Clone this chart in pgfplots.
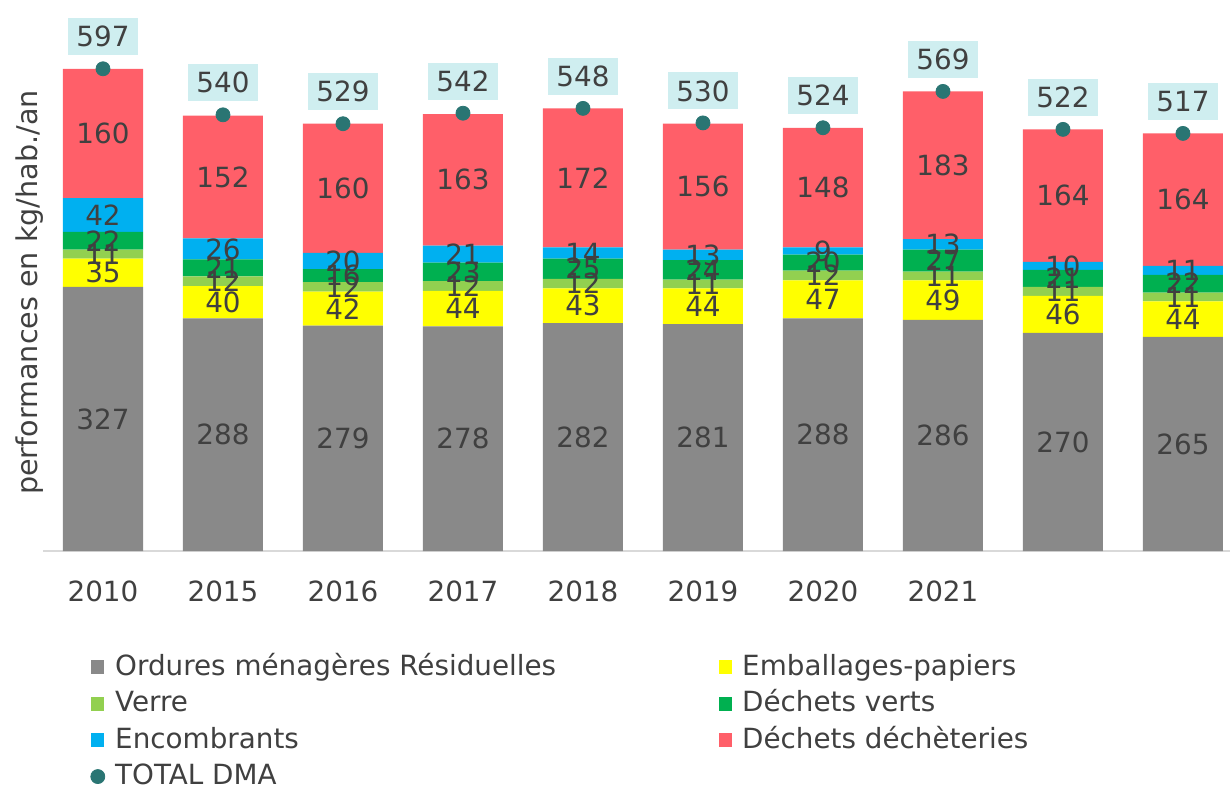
\documentclass[border=0pt]{standalone}
\usepackage{fontspec}
\setmainfont{DejaVu Sans}
\usepackage{pgfplots}
\pgfplotsset{compat=1.18}
\definecolor{cOMR}{HTML}{898989}
\definecolor{cEmb}{HTML}{FFFF00}
\definecolor{cVer}{HTML}{92D050}
\definecolor{cDV}{HTML}{00B050}
\definecolor{cEnc}{HTML}{00B0F0}
\definecolor{cDD}{HTML}{FF5F69}
\definecolor{cTot}{HTML}{2A7573}
\definecolor{cBox}{HTML}{CFEEF0}
\definecolor{cTxt}{HTML}{404040}
\definecolor{cAx}{HTML}{D9D9D9}
\newcommand{\ff}{\fontsize{13.9}{16}\selectfont}
\pgfplotsset{
  common/.style={
    at={(21.5pt,118.5pt)}, anchor=south west, scale only axis,
    width=593.5pt, height=273pt,
    xmin=-0.5, xmax=9.392, ymin=0, ymax=676,
    axis y line=none, axis x line*=bottom,
    x axis line style={draw=cAx, line width=0.7pt, -},
    xtick={0,...,9}, major tick length=0pt,
    ytick=\empty,
    xticklabels={2010,2015,2016,2017,2018,2019,2020,2021,{},{}},
    xticklabel style={text=cTxt, font=\ff, yshift=-11.5pt},
    /pgf/number format/assume math mode=true,
    clip=false,
  }
}
\begin{document}
\begin{tikzpicture}
\path[use as bounding box] (0,0) rectangle (615pt,394pt);
\begin{axis}[common, ybar stacked, bar width=40pt,
  nodes near coords, point meta=rawy,
  every node near coord/.append style={anchor=center, text=cTxt, font=\ff},
  legend image code/.code={\fill[#1] (0pt,-3.5pt) rectangle (6.5pt,3.5pt);},
  legend columns=2,
  legend style={at={(axis description cs:0.0396,-0.188)}, anchor=north west,
     draw=none, fill=none, font=\ff, text=cTxt, inner sep=0pt,
     nodes={inner sep=0pt, text height=10.5pt, text depth=2.5pt},
     column sep=5pt, row sep=5.25pt},
  legend cell align=left,
]
\addplot[fill=cOMR, draw=none] coordinates {(0,327) (1,288) (2,279) (3,278) (4,282) (5,281) (6,288) (7,286) (8,270) (9,265)};
\addlegendentry{\makebox[297pt][l]{Ordures ménagères Résiduelles}}
\addplot[fill=cEmb, draw=none] coordinates {(0,35) (1,40) (2,42) (3,44) (4,43) (5,44) (6,47) (7,49) (8,46) (9,44)};
\addlegendentry{Emballages-papiers}
\addplot[fill=cVer, draw=none] coordinates {(0,11) (1,12) (2,12) (3,12) (4,12) (5,11) (6,12) (7,11) (8,11) (9,11)};
\addlegendentry{\makebox[297pt][l]{Verre}}
\addplot[fill=cDV, draw=none] coordinates {(0,22) (1,21) (2,16) (3,23) (4,25) (5,24) (6,20) (7,27) (8,21) (9,22)};
\addlegendentry{Déchets verts}
\addplot[fill=cEnc, draw=none] coordinates {(0,42) (1,26) (2,20) (3,21) (4,14) (5,13) (6,9) (7,13) (8,10) (9,11)};
\addlegendentry{\makebox[297pt][l]{Encombrants}}
\addplot[fill=cDD, draw=none] coordinates {(0,160) (1,152) (2,160) (3,163) (4,172) (5,156) (6,148) (7,183) (8,164) (9,164)};
\addlegendentry{Déchets déchèteries}
\addlegendimage{legend image code/.code={\fill[cTot] (3.25pt,0pt) circle (3.5pt);}}
\addlegendentry{TOTAL DMA}
\end{axis}
\begin{axis}[common, hide axis]
\addplot[only marks, mark=*, mark size=3.5pt, color=cTot,
  nodes near coords, point meta=y,
  every node near coord/.append style={fill=cBox, text=cTxt, font=\ff,
    minimum width=35pt, minimum height=18.5pt, inner sep=0pt, anchor=center, yshift=16pt}]
  coordinates {(0,597) (1,540) (2,529) (3,542) (4,548) (5,530) (6,524) (7,569) (8,522) (9,517)};
\end{axis}
\node[rotate=90, text=cTxt, font=\fontsize{14.3}{16}\selectfont] at (15pt,247.75pt) {performances en kg/hab./an};
\end{tikzpicture}
\end{document}
